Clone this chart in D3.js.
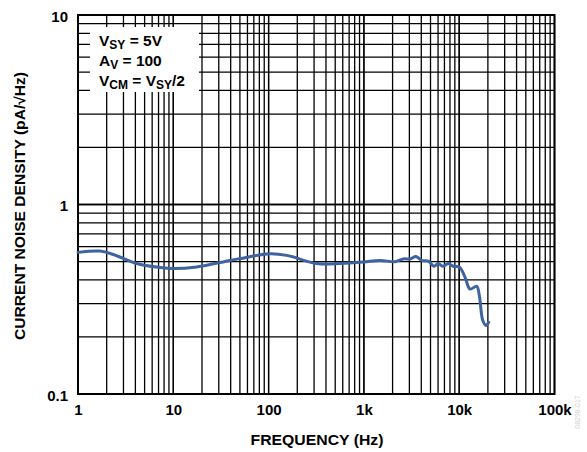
<!DOCTYPE html>
<html>
<head>
<meta charset="utf-8">
<script src="https://cdn.jsdelivr.net/npm/d3@7"></script>
<style>
  html, body { margin: 0; padding: 0; background: #fff; }
  svg { display: block; font-family: "Liberation Sans", Arial, sans-serif; }
</style>
</head>
<body>
<div id="chart"></div>
<script>
// Data
const freq = [1, 1.7, 2.35, 4.13, 7.25, 10, 17.6, 39.3, 50, 103, 155, 320, 561, 986,
  1476, 2120, 2590, 3050, 3520, 4040, 4740, 5440, 6040, 6710, 7690, 8680, 10030,
  11500, 12980, 15270, 16250, 17650, 19100, 20400];
const noise = [0.559, 0.568, 0.545, 0.488, 0.465, 0.459, 0.468, 0.507, 0.518, 0.550,
  0.539, 0.488, 0.488, 0.497, 0.507, 0.499, 0.516, 0.516, 0.532, 0.507, 0.503, 0.472,
  0.488, 0.472, 0.488, 0.472, 0.468, 0.414, 0.358, 0.370, 0.332, 0.245, 0.230, 0.239];
const xTickValues = [1, 10, 100, 1000, 10000, 100000];
const xTickLabels = ["1", "10", "100", "1k", "10k", "100k"];
const yTickValues = [0.1, 1, 10];
const yTickLabels = ["0.1", "1", "10"];

const W = 587, H = 452;
const mLeft = 78, mRight = 554.5, mTop = 15, mBottom = 394;

const svg = d3.select("#chart").append("svg").attr("width", W).attr("height", H);

const x = d3.scaleLog().domain([1, 100000]).range([mLeft, mRight]);
const y = d3.scaleLog().domain([0.1, 10]).range([mBottom, mTop]);

// minor + major grid values
const xGrid = [];
for (let d = 1; d < 100000; d *= 10) for (let m = 1; m <= 10; m++) xGrid.push(d * m);
const yGrid = [];
for (let d = 0.1; d < 10; d *= 10) for (let m = 1; m <= 10; m++) yGrid.push(+(d * m).toPrecision(3));

const g = svg.append("g");
g.selectAll("line.vx").data(xGrid).join("line")
  .attr("x1", d => x(d)).attr("x2", d => x(d))
  .attr("y1", mTop).attr("y2", mBottom)
  .attr("stroke", "#000").attr("stroke-width", 1.3);
g.selectAll("line.hy").data(yGrid).join("line")
  .attr("y1", d => y(d)).attr("y2", d => y(d))
  .attr("x1", mLeft).attr("x2", mRight)
  .attr("stroke", "#000").attr("stroke-width", 1.3);

// frame
svg.append("rect").attr("x", mLeft).attr("y", mTop)
  .attr("width", mRight - mLeft).attr("height", mBottom - mTop)
  .attr("fill", "none").attr("stroke", "#000").attr("stroke-width", 2);

// legend box
svg.append("rect").attr("x", 90).attr("y", 27).attr("width", 109).attr("height", 65)
  .attr("fill", "#fff");
const leg = svg.append("g").attr("font-weight", "bold").attr("font-size", 15.5).attr("fill", "#000");
const subFs = 12;
const l1 = leg.append("text").attr("x", 99).attr("y", 46);
l1.append("tspan").text("V");
l1.append("tspan").attr("font-size", subFs).attr("dy", 3).text("SY");
l1.append("tspan").attr("dy", -3).text(" = 5V");
const l2 = leg.append("text").attr("x", 99).attr("y", 66);
l2.append("tspan").text("A");
l2.append("tspan").attr("font-size", subFs).attr("dy", 3).text("V");
l2.append("tspan").attr("dy", -3).text(" = 100");
const l3 = leg.append("text").attr("x", 99).attr("y", 86);
l3.append("tspan").text("V");
l3.append("tspan").attr("font-size", subFs).attr("dy", 3).text("CM");
l3.append("tspan").attr("dy", -3).text(" = V");
l3.append("tspan").attr("font-size", subFs).attr("dy", 3).text("SY");
l3.append("tspan").attr("dy", -3).text("/2");

// data line
const line = d3.line().x((d, i) => x(freq[i])).y(d => y(d)).curve(d3.curveCatmullRom);
svg.append("path").datum(noise).attr("d", line)
  .attr("fill", "none").attr("stroke", "#3d63a0").attr("stroke-width", 3)
  .attr("stroke-linejoin", "round").attr("stroke-linecap", "round");

// axes labels
const xa = d3.axisBottom(x).tickValues(xTickValues)
  .tickFormat((d, i) => xTickLabels[i]).tickSize(0).tickPadding(10);
const xg = svg.append("g").attr("transform", `translate(0,${mBottom})`).call(xa);
xg.select(".domain").remove();
xg.selectAll("text").attr("font-size", 15).attr("font-weight", "bold")
  .attr("font-family", "Liberation Sans, Arial, sans-serif").attr("fill", "#000");

const ya = d3.axisLeft(y).tickValues(yTickValues)
  .tickFormat((d, i) => yTickLabels[i]).tickSize(0).tickPadding(10);
const yg = svg.append("g").attr("transform", `translate(${mLeft},0)`).call(ya);
yg.select(".domain").remove();
yg.selectAll("text").attr("font-size", 15).attr("font-weight", "bold")
  .attr("font-family", "Liberation Sans, Arial, sans-serif").attr("fill", "#000")
  .attr("dy", "0.42em");

svg.append("text").attr("x", 317).attr("y", 445)
  .attr("text-anchor", "middle").attr("font-size", 15).attr("font-weight", "bold")
  .attr("textLength", 133).attr("lengthAdjust", "spacingAndGlyphs")
  .text("FREQUENCY (Hz)");

svg.append("text").attr("transform", `translate(25,206) rotate(-90)`)
  .attr("text-anchor", "middle").attr("font-size", 15).attr("font-weight", "bold")
  .attr("textLength", 268).attr("lengthAdjust", "spacingAndGlyphs")
  .text("CURRENT NOISE DENSITY (pA/√Hz)");

svg.append("text").attr("transform", "translate(580,412) rotate(-90)")
  .attr("text-anchor", "middle").attr("font-size", 7).attr("fill", "#d0d0d0")
  .text("08298-017");
</script>
</body>
</html>
